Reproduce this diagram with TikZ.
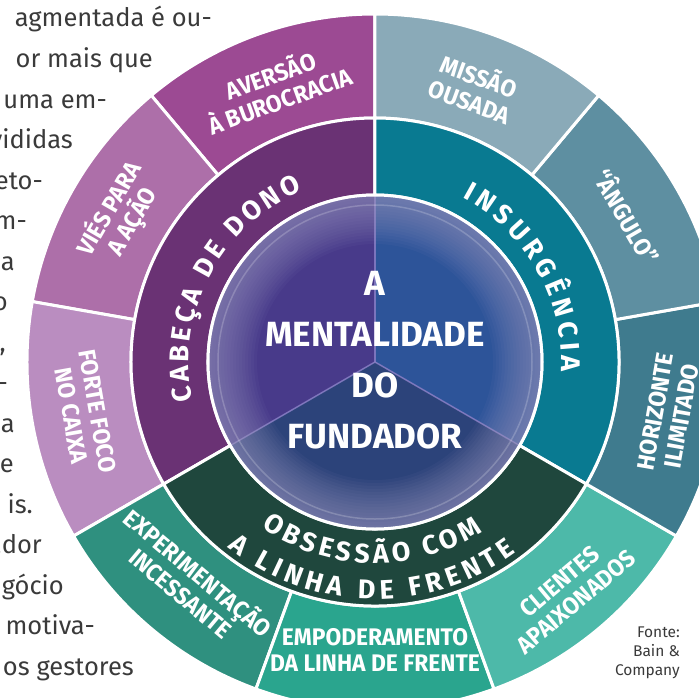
\documentclass[tikz,border=0pt]{standalone}
\usepackage{fontspec}
\setmainfont{Fira Sans}
\newfontfamily\labelfont{Fira Sans}[FakeStretch=0.95]
\usetikzlibrary{decorations.text}

\definecolor{aversao}{HTML}{9C4A93}
\definecolor{vies}{HTML}{AD6FA9}
\definecolor{forte}{HTML}{BA8DC0}
\definecolor{experim}{HTML}{2F907F}
\definecolor{empoder}{HTML}{2AA58E}
\definecolor{clientes}{HTML}{4DB9A9}
\definecolor{horiz}{HTML}{3F7B8E}
\definecolor{angulo}{HTML}{5E8FA1}
\definecolor{missao}{HTML}{8AAAB8}
\definecolor{cabeca}{HTML}{6A3274}
\definecolor{insurg}{HTML}{097A91}
\definecolor{obsess}{HTML}{1F473D}
\definecolor{diskpurple}{HTML}{483A8A}
\definecolor{diskblue}{HTML}{2D5499}
\definecolor{disknavy}{HTML}{2C437A}
\definecolor{rimglow}{HTML}{A09CC4}
\definecolor{diskline}{HTML}{8C80C8}
\definecolor{txtgray}{HTML}{3A3A3A}

% annular sector: colour, start angle, end angle, inner radius, outer radius
\newcommand{\ringsector}[5]{%
  \filldraw[fill=#1, draw=white, line width=3pt] (#2:#5)
    arc[start angle=#2, end angle=#3, radius=#5] -- (#3:#4)
    arc[start angle=#3, end angle=#2, radius=#4] -- cycle;}

\begin{document}
\begin{tikzpicture}[x=1pt, y=1pt,
    outerlbl/.style={text=white, font=\labelfont\bfseries\fontsize{24}{26.5}\selectfont, align=center, inner sep=0pt},
    articletxt/.style={text=txtgray, font=\fontsize{25.5}{30}\selectfont, anchor=base east, inner sep=0pt},
    midtext/.style={decorate, decoration={text along path, text color=white,
        text align={fit to path}, text={|\bfseries\fontsize{27}{27}\selectfont|#1}}}]
    \useasboundingbox (-375,-335) rectangle (324,362);
    \clip (-375,-335) rectangle (324,362);
    \coordinate (hub) at (0,0);

    % article column on the left
    \foreach \txt/\xr [count=\i from 0] in {agmentada é ou-/212, or mais que/153,
        uma em-/107, vididas/73, eto-/43, m-/27, a/15, o/8, {,}/6, -/8, a/15,
        e/14, is./33, ador/42, gócio/64, motiva-/95, os gestores/134}
      \node[articletxt] (art\i) at (\xr-375, 335-40.5*\i) {\txt};

    % outer ring
    \foreach \col/\a [evaluate=\a as \b using \a+40] in {aversao/90, vies/130,
        forte/170, experim/210, empoder/250, clientes/290, horiz/330,
        angulo/370, missao/410}
      \ringsector{\col}{\a}{\b}{244}{348};

    % middle ring
    \ringsector{cabeca}{90}{210}{167}{244}
    \ringsector{insurg}{-30}{90}{167}{244}
    \ringsector{obsess}{210}{330}{167}{244}

    % centre disk
    \fill[diskpurple] (hub) -- (90:167) arc[start angle=90, end angle=210, radius=167] -- cycle;
    \fill[diskblue] (hub) -- (-30:167) arc[start angle=-30, end angle=90, radius=167] -- cycle;
    \fill[disknavy] (hub) -- (210:167) arc[start angle=210, end angle=330, radius=167] -- cycle;
    \foreach \a in {90,210,330}
      \draw[diskline, line width=1.5pt, opacity=0.8] (hub) -- (\a:166);
    \foreach \r in {118,121,...,166}
      \fill[rimglow, opacity=0.055, even odd rule] (hub) circle (167) circle (\r);
    \draw[white, opacity=0.2, line width=1.5pt] (hub) circle (157);
    \draw[white, line width=3pt] (hub) circle (167);

    \node[text=white, font=\bfseries\fontsize{35}{51}\selectfont, align=center, inner sep=0pt]
      (title) at (0,1.5) {A\\MENTALIDADE\\DO\\FUNDADOR};

    % curved labels of the middle ring
    \path[midtext={CABEÇA DE DONO}] (192:186) arc[start angle=192, end angle=113, radius=186];
    \path[midtext={INSURGÊNCIA}] (62:186) arc[start angle=62, end angle=-3, radius=186];
    \path[midtext={OBSESSÃO COM}] (235.5:201) arc[start angle=235.5, end angle=302.5, radius=201];
    \path[midtext={A LINHA DE FRENTE}] (231.5:237) arc[start angle=231.5, end angle=306.5, radius=237];

    % labels of the outer ring
    \node[outerlbl, rotate=20] (aversaolbl) at (110:293) {AVERSÃO\\À BUROCRACIA};
    \node[outerlbl, rotate=60] (vieslbl) at (150:294) {VIÉS PARA\\A AÇÃO};
    \node[outerlbl, rotate=-80] (fortelbl) at (190:295) {FORTE FOCO\\NO CAIXA};
    \node[outerlbl, rotate=-40] (experimlbl) at (230:287) {EXPERIMENTAÇÃO\\INCESSANTE};
    \node[outerlbl] (empoderlbl) at (270:288) {EMPODERAMENTO\\DA LINHA DE FRENTE};
    \node[outerlbl, rotate=40] (clienteslbl) at (310:300) {CLIENTES\\APAIXONADOS};
    \node[outerlbl, rotate=80] (horizlbl) at (350:298) {HORIZONTE\\ILIMITADO};
    \node[outerlbl, rotate=-60] (angulolbl) at (30:292) {“ÂNGULO”};
    \node[outerlbl, rotate=-20] (missaolbl) at (70:292) {MISSÃO\\OUSADA};

    \node[text=txtgray, font=\fontsize{15.5}{19}\selectfont, align=right, inner sep=0pt,
      anchor=north east] (fonte) at (305,-265) {Fonte:\\Bain \&\\Company};
\end{tikzpicture}
\end{document}
